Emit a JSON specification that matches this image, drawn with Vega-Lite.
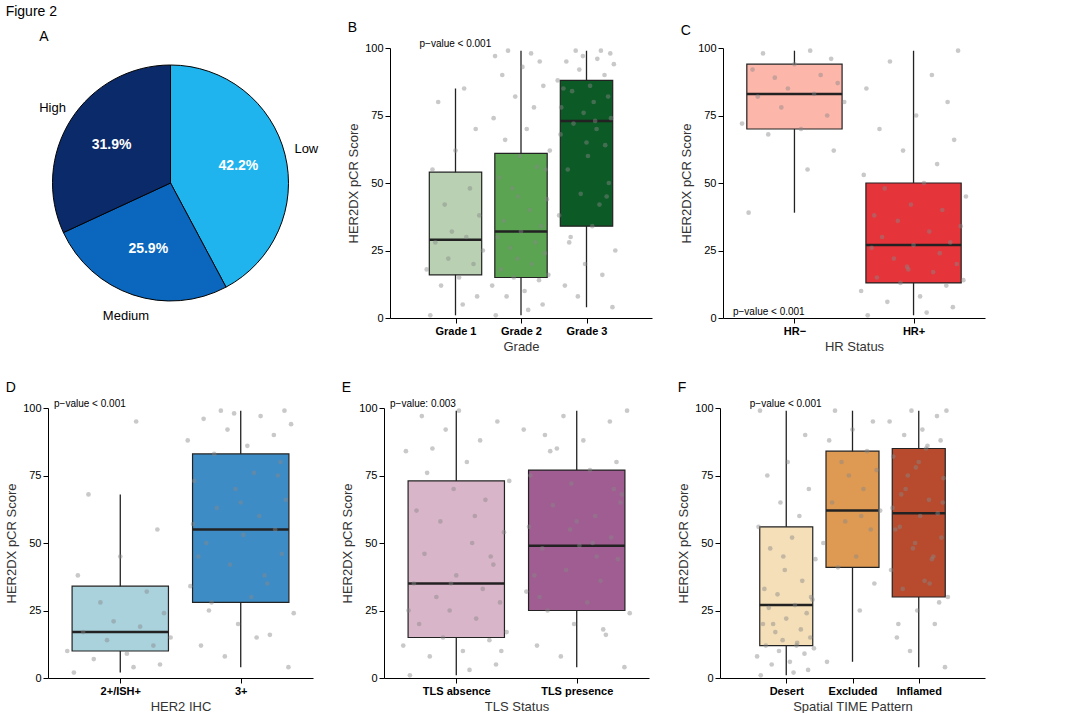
{
"$schema":"https://vega.github.io/schema/vega-lite/v6.json",
"title":{"text":"Figure 2","anchor":"start","fontSize":14,"fontWeight":"normal","font":"Liberation Sans","offset":2},
"padding":{"left":5,"top":5,"right":5,"bottom":5},
"config":{"view":{"stroke":null},"font":"Liberation Sans","axis":{"grid":false,"domainColor":"#000","tickColor":"#000","labelColor":"#000","titleColor":"#333","titleFontWeight":"normal","titleFontSize":13,"labelFontSize":11},"title":{"fontSize":14,"fontWeight":"normal","anchor":"start"},"concat":{"spacing":28}},
"resolve":{"scale":{"color":"independent"}},
"datasets":{
"pts":[
{"p":"B","xi":1,"v":[1,5,8,12,15,18,20,22,25,28,30,32,38,42,48,55,62,70,80,85],"j":[-0.35,0.1,0.3,-0.2,0.05,-0.4,0.25,-0.1,0.38,-0.28,0.15,-0.05,0.33,-0.15,0.2,-0.32,0.0,0.28,-0.24,0.12]},
{"p":"B","xi":2,"v":[1,3,5,8,10,12,14,15,16,18,20,22,24,26,28,30,32,34,36,40,44,48,52,56,60,62,66,70,74,78,82,86,90,93,95,97,98,99,55,45],"j":[-0.35,0.1,0.3,-0.2,0.05,-0.4,0.25,-0.1,0.38,-0.28,0.15,-0.05,0.33,-0.15,0.2,-0.32,0.0,0.28,-0.24,0.12,0.36,-0.12,-0.3,0.22,-0.02,0.4,-0.22,0.08,-0.38,0.18,-0.08,0.31,-0.26,0.02,0.26,-0.36,0.14,-0.18,0.34,-0.04]},
{"p":"B","xi":3,"v":[4,8,12,16,20,25,30,34,38,42,46,50,55,60,64,68,70,72,74,76,78,80,82,84,86,88,90,92,94,95,96,97,98,99,99,85,65,45,28,73],"j":[0.36,-0.12,-0.3,0.22,-0.02,0.4,-0.22,0.08,-0.38,0.18,-0.08,0.31,-0.26,0.02,0.26,-0.36,0.14,-0.18,0.34,-0.04,-0.35,0.1,0.3,-0.2,0.05,-0.4,0.25,-0.1,0.38,-0.28,0.15,-0.05,0.33,-0.15,0.2,-0.32,0.0,0.28,-0.24,0.12]},
{"p":"C","xi":1,"v":[39,55,62,68,70,72,75,78,80,82,83,85,87,89,90,92,94,96,98,99],"j":[-0.35,0.1,0.3,-0.2,0.05,-0.4,0.25,-0.1,0.38,-0.28,0.15,-0.05,0.33,-0.15,0.2,-0.32,0.0,0.28,-0.24,0.12]},
{"p":"C","xi":2,"v":[1,2,4,6,8,10,12,13,14,15,17,19,20,22,24,26,27,28,30,32,34,36,38,40,42,45,48,50,53,57,62,66,70,75,80,85,90,95,99,18],"j":[-0.35,0.1,0.3,-0.2,0.05,-0.4,0.25,-0.1,0.38,-0.28,0.15,-0.05,0.33,-0.15,0.2,-0.32,0.0,0.28,-0.24,0.12,0.36,-0.12,-0.3,0.22,-0.02,0.4,-0.22,0.08,-0.38,0.18,-0.08,0.31,-0.26,0.02,0.26,-0.36,0.14,-0.18,0.34,-0.04]},
{"p":"D","xi":1,"v":[2,4,5,7,9,10,12,14,15,17,19,21,24,28,32,38,45,55,68,95],"j":[-0.35,0.1,0.3,-0.2,0.05,-0.4,0.25,-0.1,0.38,-0.28,0.15,-0.05,0.33,-0.15,0.2,-0.32,0.0,0.28,-0.24,0.12]},
{"p":"D","xi":2,"v":[4,8,12,16,20,24,28,30,34,38,42,46,50,53,55,57,60,63,66,70,73,76,80,83,86,88,90,92,94,96,97,98,99,99,35,45,65,75,25,15],"j":[0.36,-0.12,-0.3,0.22,-0.02,0.4,-0.22,0.08,-0.38,0.18,-0.08,0.31,-0.26,0.02,0.26,-0.36,0.14,-0.18,0.34,-0.04,-0.35,0.1,0.3,-0.2,0.05,-0.4,0.25,-0.1,0.38,-0.28,0.15,-0.05,0.33,-0.15,0.2,-0.32,0.0,0.28,-0.24,0.12]},
{"p":"E","xi":1,"v":[1,3,5,8,10,12,14,15,17,20,22,25,28,30,33,35,38,42,46,50,54,58,62,66,70,73,76,80,84,88,92,95,97,99,45,25,60,85,10,35],"j":[-0.35,0.1,0.3,-0.2,0.05,-0.4,0.25,-0.1,0.38,-0.28,0.15,-0.05,0.33,-0.15,0.2,-0.32,0.0,0.28,-0.24,0.12,0.36,-0.12,-0.3,0.22,-0.02,0.4,-0.22,0.08,-0.38,0.18,-0.08,0.31,-0.26,0.02,0.26,-0.36,0.14,-0.18,0.34,-0.04]},
{"p":"E","xi":2,"v":[4,8,12,16,20,24,25,28,32,36,40,44,48,49,52,56,60,64,68,72,75,77,80,84,88,92,95,97,99,30,45,55,65,85,18,38,58,70,90,50],"j":[0.36,-0.12,-0.3,0.22,-0.02,0.4,-0.22,0.08,-0.38,0.18,-0.08,0.31,-0.26,0.02,0.26,-0.36,0.14,-0.18,0.34,-0.04,-0.35,0.1,0.3,-0.2,0.05,-0.4,0.25,-0.1,0.38,-0.28,0.15,-0.05,0.33,-0.15,0.2,-0.32,0.0,0.28,-0.24,0.12]},
{"p":"F","xi":1,"v":[1,2,3,5,6,8,9,10,11,12,13,14,15,17,18,20,22,24,26,27,29,31,33,36,40,44,48,52,56,60,65,70,75,80,90,99,12,20,30,45],"j":[-0.35,0.1,0.3,-0.2,0.05,-0.4,0.25,-0.1,0.38,-0.28,0.15,-0.05,0.33,-0.15,0.2,-0.32,0.0,0.28,-0.24,0.12,0.36,-0.12,-0.3,0.22,-0.02,0.4,-0.22,0.08,-0.38,0.18,-0.08,0.31,-0.26,0.02,0.26,-0.36,0.14,-0.18,0.34,-0.04]},
{"p":"F","xi":2,"v":[6,25,35,41,45,50,55,58,62,65,70,75,77,80,84,88,92,95,99,60],"j":[-0.35,0.1,0.3,-0.2,0.05,-0.4,0.25,-0.1,0.38,-0.28,0.15,-0.05,0.33,-0.15,0.2,-0.32,0.0,0.28,-0.24,0.12]},
{"p":"F","xi":3,"v":[4,10,15,20,25,30,33,36,40,44,48,52,56,60,61,63,66,70,74,78,82,85,88,90,92,95,97,99,99,20,35,50,65,75,45,55,80,28,68,86],"j":[0.36,-0.12,-0.3,0.22,-0.02,0.4,-0.22,0.08,-0.38,0.18,-0.08,0.31,-0.26,0.02,0.26,-0.36,0.14,-0.18,0.34,-0.04,-0.35,0.1,0.3,-0.2,0.05,-0.4,0.25,-0.1,0.38,-0.28,0.15,-0.05,0.33,-0.15,0.2,-0.32,0.0,0.28,-0.24,0.12]}
],
"stats":[
{"p":"B","xi":1,"lo":1,"q1":16,"med":29,"q3":54,"hi":85},
{"p":"B","xi":2,"lo":1,"q1":15,"med":32,"q3":61,"hi":99},
{"p":"B","xi":3,"lo":4,"q1":34,"med":73,"q3":88,"hi":99},
{"p":"C","xi":1,"lo":39,"q1":70,"med":83,"q3":94,"hi":99},
{"p":"C","xi":2,"lo":1,"q1":13,"med":27,"q3":50,"hi":99},
{"p":"D","xi":1,"lo":2,"q1":10,"med":17,"q3":34,"hi":68},
{"p":"D","xi":2,"lo":4,"q1":28,"med":55,"q3":83,"hi":99},
{"p":"E","xi":1,"lo":1,"q1":15,"med":35,"q3":73,"hi":99},
{"p":"E","xi":2,"lo":4,"q1":25,"med":49,"q3":77,"hi":99},
{"p":"F","xi":1,"lo":1,"q1":12,"med":27,"q3":56,"hi":99},
{"p":"F","xi":2,"lo":6,"q1":41,"med":62,"q3":84,"hi":99},
{"p":"F","xi":3,"lo":4,"q1":30,"med":61,"q3":85,"hi":99}
],
"pv":[
{"p":"B","x":0.45,"y":100,"t":"p−value < 0.001"},
{"p":"C","x":0.45,"y":0,"t":"p−value < 0.001"},
{"p":"D","x":0.45,"y":100,"t":"p−value < 0.001"},
{"p":"E","x":0.45,"y":100,"t":"p−value: 0.003"},
{"p":"F","x":0.45,"y":100,"t":"p−value < 0.001"}
]
},
"vconcat":[
{"resolve":{"scale":{"color":"independent"}},"hconcat":[
{"title":"A","width":245,"height":270,
"data":{"values":[{"k":"Low","pct":42.2,"o":1,"lab":"42.2%"},{"k":"Medium","pct":25.9,"o":2,"lab":"25.9%"},{"k":"High","pct":31.9,"o":3,"lab":"31.9%"}]},
"encoding":{"theta":{"field":"pct","type":"quantitative","stack":true},"order":{"field":"o"}},
"layer":[
{"mark":{"type":"arc","outerRadius":118,"stroke":"#000","strokeWidth":1},"encoding":{"color":{"field":"k","type":"nominal","scale":{"domain":["Low","Medium","High"],"range":["#1fb4ee","#0b67bd","#0b2a6a"]},"legend":null}}},
{"mark":{"type":"text","radius":70,"fontSize":14,"fontWeight":"bold","color":"white"},"encoding":{"text":{"field":"lab"}}},
{"mark":{"type":"text","radius":140,"fontSize":13,"color":"#000"},"encoding":{"text":{"field":"k"}}}
]},
{"title":"B","width":262,"height":270,
"layer":[
{"data":{"name":"stats"},"transform":[{"filter":"datum.p=='B'"}],"mark":{"type":"rule","color":"#222","strokeWidth":1.3},"encoding":{"x":{"field":"xi","type":"quantitative","scale":{"domain":[0.4,3.6]},"title":"Grade","axis":{"values":[1,2,3],"labelExpr":"['','Grade 1','Grade 2','Grade 3'][datum.value]","labelFontWeight":"bold"}},"y":{"field":"lo","type":"quantitative","scale":{"domain":[0,100]},"axis":{"values":[0,25,50,75,100]},"title":"HER2DX pCR Score"},"y2":{"field":"hi"}}},
{"data":{"name":"stats"},"transform":[{"filter":"datum.p=='B'"},{"calculate":"datum.xi-0.4","as":"xl"},{"calculate":"datum.xi+0.4","as":"xr"}],"mark":{"type":"rect","stroke":"#222","strokeWidth":1.2},"encoding":{"x":{"field":"xl","type":"quantitative"},"x2":{"field":"xr"},"y":{"field":"q1","type":"quantitative"},"y2":{"field":"q3"},"color":{"field":"xi","type":"nominal","scale":{"domain":[1,2,3],"range":["#b9d1b2","#5aa452","#0c5a26"]},"legend":null}}},
{"data":{"name":"stats"},"transform":[{"filter":"datum.p=='B'"},{"calculate":"datum.xi-0.4","as":"xl"},{"calculate":"datum.xi+0.4","as":"xr"}],"mark":{"type":"rule","color":"#222","strokeWidth":2.5},"encoding":{"x":{"field":"xl","type":"quantitative"},"x2":{"field":"xr"},"y":{"field":"med","type":"quantitative"}}},
{"data":{"name":"pts"},"transform":[{"filter":"datum.p=='B'"},{"flatten":["v","j"]},{"calculate":"datum.xi+datum.j*1.1","as":"xp"}],"mark":{"type":"circle","size":22,"color":"#888","opacity":0.45},"encoding":{"x":{"field":"xp","type":"quantitative"},"y":{"field":"v","type":"quantitative"}}},
{"data":{"name":"pv"},"transform":[{"filter":"datum.p=='B'"}],"mark":{"type":"text","align":"left","dy":-4,"fontSize":10},"encoding":{"x":{"field":"x","type":"quantitative"},"y":{"field":"y","type":"quantitative"},"text":{"field":"t"}}}
]},
{"title":"C","width":262,"height":270,
"layer":[
{"data":{"name":"stats"},"transform":[{"filter":"datum.p=='C'"}],"mark":{"type":"rule","color":"#222","strokeWidth":1.3},"encoding":{"x":{"field":"xi","type":"quantitative","scale":{"domain":[0.4,2.6]},"title":"HR Status","axis":{"values":[1,2],"labelExpr":"['','HR−','HR+'][datum.value]","labelFontWeight":"bold"}},"y":{"field":"lo","type":"quantitative","scale":{"domain":[0,100]},"axis":{"values":[0,25,50,75,100]},"title":"HER2DX pCR Score"},"y2":{"field":"hi"}}},
{"data":{"name":"stats"},"transform":[{"filter":"datum.p=='C'"},{"calculate":"datum.xi-0.4","as":"xl"},{"calculate":"datum.xi+0.4","as":"xr"}],"mark":{"type":"rect","stroke":"#222","strokeWidth":1.2},"encoding":{"x":{"field":"xl","type":"quantitative"},"x2":{"field":"xr"},"y":{"field":"q1","type":"quantitative"},"y2":{"field":"q3"},"color":{"field":"xi","type":"nominal","scale":{"domain":[1,2],"range":["#fdb6aa","#e5343a"]},"legend":null}}},
{"data":{"name":"stats"},"transform":[{"filter":"datum.p=='C'"},{"calculate":"datum.xi-0.4","as":"xl"},{"calculate":"datum.xi+0.4","as":"xr"}],"mark":{"type":"rule","color":"#222","strokeWidth":2.5},"encoding":{"x":{"field":"xl","type":"quantitative"},"x2":{"field":"xr"},"y":{"field":"med","type":"quantitative"}}},
{"data":{"name":"pts"},"transform":[{"filter":"datum.p=='C'"},{"flatten":["v","j"]},{"calculate":"datum.xi+datum.j*1.1","as":"xp"}],"mark":{"type":"circle","size":22,"color":"#888","opacity":0.45},"encoding":{"x":{"field":"xp","type":"quantitative"},"y":{"field":"v","type":"quantitative"}}},
{"data":{"name":"pv"},"transform":[{"filter":"datum.p=='C'"}],"mark":{"type":"text","align":"left","dx":4,"dy":-6,"fontSize":10},"encoding":{"x":{"field":"x","type":"quantitative"},"y":{"field":"y","type":"quantitative"},"text":{"field":"t"}}}
]}
]},
{"resolve":{"scale":{"color":"independent"}},"hconcat":[
{"title":"D","width":265,"height":270,
"layer":[
{"data":{"name":"stats"},"transform":[{"filter":"datum.p=='D'"}],"mark":{"type":"rule","color":"#222","strokeWidth":1.3},"encoding":{"x":{"field":"xi","type":"quantitative","scale":{"domain":[0.4,2.6]},"title":"HER2 IHC","axis":{"values":[1,2],"labelExpr":"['','2+/ISH+','3+'][datum.value]","labelFontWeight":"bold"}},"y":{"field":"lo","type":"quantitative","scale":{"domain":[0,100]},"axis":{"values":[0,25,50,75,100]},"title":"HER2DX pCR Score"},"y2":{"field":"hi"}}},
{"data":{"name":"stats"},"transform":[{"filter":"datum.p=='D'"},{"calculate":"datum.xi-0.4","as":"xl"},{"calculate":"datum.xi+0.4","as":"xr"}],"mark":{"type":"rect","stroke":"#222","strokeWidth":1.2},"encoding":{"x":{"field":"xl","type":"quantitative"},"x2":{"field":"xr"},"y":{"field":"q1","type":"quantitative"},"y2":{"field":"q3"},"color":{"field":"xi","type":"nominal","scale":{"domain":[1,2],"range":["#a9d2dd","#3e8cc6"]},"legend":null}}},
{"data":{"name":"stats"},"transform":[{"filter":"datum.p=='D'"},{"calculate":"datum.xi-0.4","as":"xl"},{"calculate":"datum.xi+0.4","as":"xr"}],"mark":{"type":"rule","color":"#222","strokeWidth":2.5},"encoding":{"x":{"field":"xl","type":"quantitative"},"x2":{"field":"xr"},"y":{"field":"med","type":"quantitative"}}},
{"data":{"name":"pts"},"transform":[{"filter":"datum.p=='D'"},{"flatten":["v","j"]},{"calculate":"datum.xi+datum.j*1.1","as":"xp"}],"mark":{"type":"circle","size":22,"color":"#888","opacity":0.45},"encoding":{"x":{"field":"xp","type":"quantitative"},"y":{"field":"v","type":"quantitative"}}},
{"data":{"name":"pv"},"transform":[{"filter":"datum.p=='D'"}],"mark":{"type":"text","align":"left","dy":-4,"fontSize":10},"encoding":{"x":{"field":"x","type":"quantitative"},"y":{"field":"y","type":"quantitative"},"text":{"field":"t"}}}
]},
{"title":"E","width":265,"height":270,
"layer":[
{"data":{"name":"stats"},"transform":[{"filter":"datum.p=='E'"}],"mark":{"type":"rule","color":"#222","strokeWidth":1.3},"encoding":{"x":{"field":"xi","type":"quantitative","scale":{"domain":[0.4,2.6]},"title":"TLS Status","axis":{"values":[1,2],"labelExpr":"['','TLS absence','TLS presence'][datum.value]","labelFontWeight":"bold"}},"y":{"field":"lo","type":"quantitative","scale":{"domain":[0,100]},"axis":{"values":[0,25,50,75,100]},"title":"HER2DX pCR Score"},"y2":{"field":"hi"}}},
{"data":{"name":"stats"},"transform":[{"filter":"datum.p=='E'"},{"calculate":"datum.xi-0.4","as":"xl"},{"calculate":"datum.xi+0.4","as":"xr"}],"mark":{"type":"rect","stroke":"#222","strokeWidth":1.2},"encoding":{"x":{"field":"xl","type":"quantitative"},"x2":{"field":"xr"},"y":{"field":"q1","type":"quantitative"},"y2":{"field":"q3"},"color":{"field":"xi","type":"nominal","scale":{"domain":[1,2],"range":["#d9b5c9","#a05d92"]},"legend":null}}},
{"data":{"name":"stats"},"transform":[{"filter":"datum.p=='E'"},{"calculate":"datum.xi-0.4","as":"xl"},{"calculate":"datum.xi+0.4","as":"xr"}],"mark":{"type":"rule","color":"#222","strokeWidth":2.5},"encoding":{"x":{"field":"xl","type":"quantitative"},"x2":{"field":"xr"},"y":{"field":"med","type":"quantitative"}}},
{"data":{"name":"pts"},"transform":[{"filter":"datum.p=='E'"},{"flatten":["v","j"]},{"calculate":"datum.xi+datum.j*1.1","as":"xp"}],"mark":{"type":"circle","size":22,"color":"#888","opacity":0.45},"encoding":{"x":{"field":"xp","type":"quantitative"},"y":{"field":"v","type":"quantitative"}}},
{"data":{"name":"pv"},"transform":[{"filter":"datum.p=='E'"}],"mark":{"type":"text","align":"left","dy":-4,"fontSize":10},"encoding":{"x":{"field":"x","type":"quantitative"},"y":{"field":"y","type":"quantitative"},"text":{"field":"t"}}}
]},
{"title":"F","width":265,"height":270,
"layer":[
{"data":{"name":"stats"},"transform":[{"filter":"datum.p=='F'"}],"mark":{"type":"rule","color":"#222","strokeWidth":1.3},"encoding":{"x":{"field":"xi","type":"quantitative","scale":{"domain":[0.4,3.6]},"title":"Spatial TIME Pattern","axis":{"values":[1,2,3],"labelExpr":"['','Desert','Excluded','Inflamed'][datum.value]","labelFontWeight":"bold"}},"y":{"field":"lo","type":"quantitative","scale":{"domain":[0,100]},"axis":{"values":[0,25,50,75,100]},"title":"HER2DX pCR Score"},"y2":{"field":"hi"}}},
{"data":{"name":"stats"},"transform":[{"filter":"datum.p=='F'"},{"calculate":"datum.xi-0.4","as":"xl"},{"calculate":"datum.xi+0.4","as":"xr"}],"mark":{"type":"rect","stroke":"#222","strokeWidth":1.2},"encoding":{"x":{"field":"xl","type":"quantitative"},"x2":{"field":"xr"},"y":{"field":"q1","type":"quantitative"},"y2":{"field":"q3"},"color":{"field":"xi","type":"nominal","scale":{"domain":[1,2,3],"range":["#f4dfb9","#de9a53","#b84b2e"]},"legend":null}}},
{"data":{"name":"stats"},"transform":[{"filter":"datum.p=='F'"},{"calculate":"datum.xi-0.4","as":"xl"},{"calculate":"datum.xi+0.4","as":"xr"}],"mark":{"type":"rule","color":"#222","strokeWidth":2.5},"encoding":{"x":{"field":"xl","type":"quantitative"},"x2":{"field":"xr"},"y":{"field":"med","type":"quantitative"}}},
{"data":{"name":"pts"},"transform":[{"filter":"datum.p=='F'"},{"flatten":["v","j"]},{"calculate":"datum.xi+datum.j*1.1","as":"xp"}],"mark":{"type":"circle","size":22,"color":"#888","opacity":0.45},"encoding":{"x":{"field":"xp","type":"quantitative"},"y":{"field":"v","type":"quantitative"}}},
{"data":{"name":"pv"},"transform":[{"filter":"datum.p=='F'"}],"mark":{"type":"text","align":"left","dy":-4,"fontSize":10},"encoding":{"x":{"field":"x","type":"quantitative"},"y":{"field":"y","type":"quantitative"},"text":{"field":"t"}}}
]}
]}
]
}
